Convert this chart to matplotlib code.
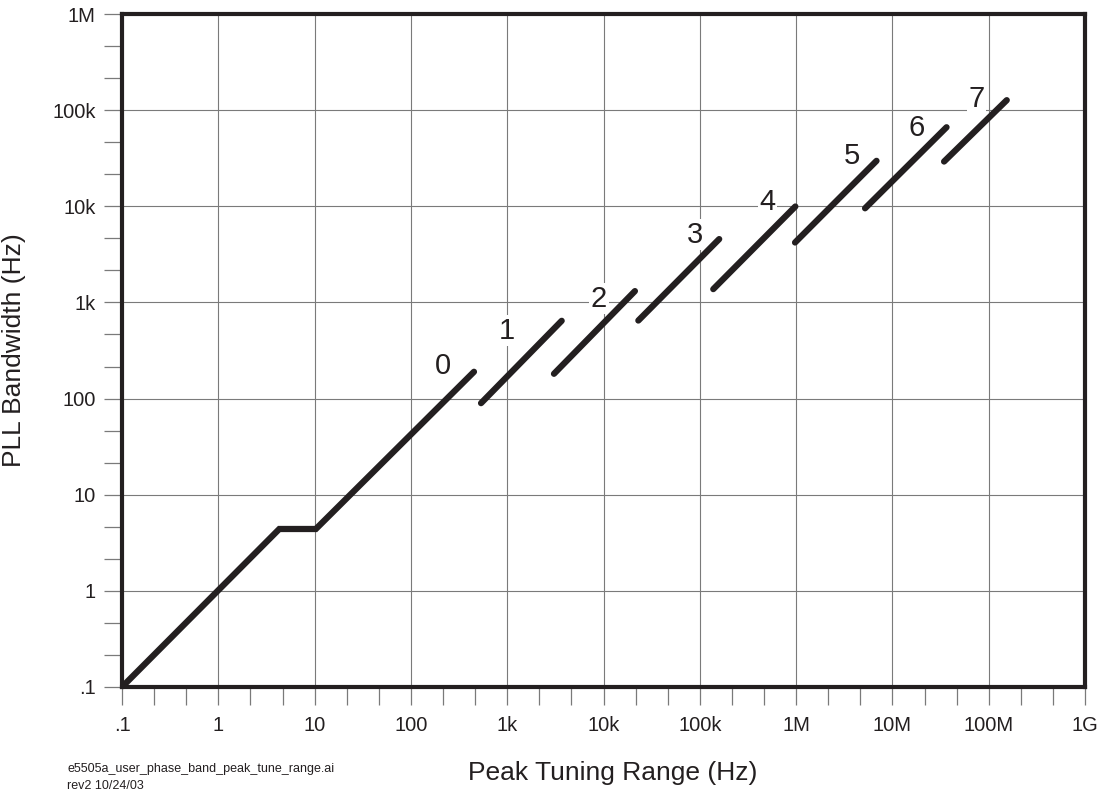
import numpy as np
import matplotlib.pyplot as plt
from matplotlib.ticker import FixedLocator, FixedFormatter, NullFormatter

plt.rcParams['font.family'] = ['Liberation Sans', 'DejaVu Sans']

# --- data ---
x_ticks = [0.1, 1, 10, 100, 1e3, 1e4, 1e5, 1e6, 1e7, 1e8, 1e9]
x_ticklabels = ['.1', '1', '10', '100', '1k', '10k', '100k', '1M', '10M', '100M', '1G']
y_ticks = [0.1, 1, 10, 100, 1e3, 1e4, 1e5, 1e6]
y_ticklabels = ['.1', '1', '10', '100', '1k', '10k', '100k', '1M']

# range 0: the long curve from the corner
range0_x = [0.1, 4.3, 10.3, 452]
range0_y = [0.1, 4.4, 4.4, 190]

# ranges 1..7: straight pieces
seg_x0 = [535, 3060, 23000, 138e3, 975e3, 5.2e6, 34.4e6]
seg_y0 = [89.6, 181, 648, 1375, 4200, 9530, 29.2e3]
seg_x1 = [3680, 21200, 159e3, 982e3, 6.84e6, 36.5e6, 154e6]
seg_y1 = [644, 1312, 4560, 9950, 29.7e3, 66.4e3, 127e3]

range_names = ['0', '1', '2', '3', '4', '5', '6', '7']
name_x = [217, 988, 8980, 89e3, 499e3, 3.78e6, 18e6, 75e6]
name_y = [219, 506, 1090, 5050, 10.96e3, 33e3, 65.6e3, 130e3]

ink = '#231f20'
gridc = '#7a7a7a'

fig = plt.figure(figsize=(11.03, 7.92), dpi=100)
ax = fig.add_axes([122 / 1103, 105 / 792, 963 / 1103, 673 / 792])
ax.set_xscale('log')
ax.set_yscale('log')
ax.set_xlim(0.1, 1e9)
ax.set_ylim(0.1, 1e6)

ax.xaxis.set_major_locator(FixedLocator(x_ticks))
ax.xaxis.set_major_formatter(FixedFormatter(x_ticklabels))
ax.yaxis.set_major_locator(FixedLocator(y_ticks))
ax.yaxis.set_major_formatter(FixedFormatter(y_ticklabels))

xminor = [t * f for t in x_ticks[:-1] for f in (10 ** (1 / 3), 10 ** (2 / 3))]
yminor = [t * f for t in y_ticks[:-1] for f in (10 ** (1 / 3), 10 ** (2 / 3))]
ax.xaxis.set_minor_locator(FixedLocator(xminor))
ax.yaxis.set_minor_locator(FixedLocator(yminor))
ax.xaxis.set_minor_formatter(NullFormatter())
ax.yaxis.set_minor_formatter(NullFormatter())

ax.tick_params(which='both', direction='out', length=13, width=0.9, color=gridc,
               labelsize=14.5, labelcolor=ink)
ax.tick_params(axis='x', which='major', pad=8)
ax.tick_params(axis='y', which='major', pad=6)

ax.grid(True, which='major', color=gridc, linewidth=0.8)
ax.set_axisbelow(True)
for s in ax.spines.values():
    s.set_linewidth(3)
    s.set_color(ink)

ax.plot(range0_x, range0_y, color=ink, lw=4.5, solid_capstyle='round',
        solid_joinstyle='miter', zorder=4)
for i in range(len(seg_x0)):
    ax.plot([seg_x0[i], seg_x1[i]], [seg_y0[i], seg_y1[i]], color=ink, lw=4.5,
            solid_capstyle='round', zorder=4)

for i in range(len(range_names)):
    ax.text(name_x[i], name_y[i], range_names[i], fontsize=21, color=ink,
            ha='center', va='center', zorder=3,
            bbox=dict(facecolor='white', edgecolor='none', pad=1))

ax.set_xlabel('Peak Tuning Range (Hz)', fontsize=19, color=ink)
ax.set_ylabel('PLL Bandwidth (Hz)', fontsize=19, color=ink)
ax.xaxis.set_label_coords(0.51, -0.128)
ax.yaxis.set_label_coords(-0.112, 0.5)
ax.xaxis.label.set_va('center')
ax.yaxis.label.set_va('center')

fig.text(67 / 1103, 1 - 769 / 792, 'e5505a_user_phase_band_peak_tune_range.ai',
         fontsize=9, color=ink, va='center')
fig.text(67 / 1103, 1 - 786 / 792, 'rev2 10/24/03', fontsize=9, color=ink, va='center')

fig.savefig('out.png', dpi=100)
